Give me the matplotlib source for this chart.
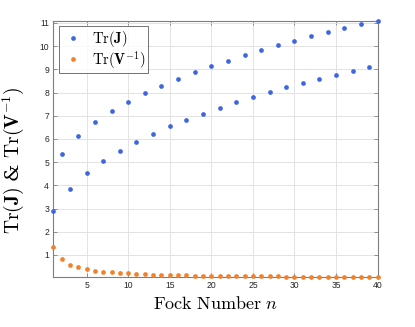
import numpy as np
import matplotlib.pyplot as plt

plt.rcParams['mathtext.fontset'] = 'cm'
plt.rcParams['font.family'] = 'Liberation Sans'

fock = list(range(1, 41))

# Tr(J) (odd n on the lower branch, even n on the upper)
traceJ = [2.91, 5.35, 3.86, 6.13, 4.53, 6.72, 5.05, 7.19, 5.50, 7.61,
          5.87, 7.97, 6.23, 8.30, 6.54, 8.60, 6.83, 8.87, 7.09, 9.13,
          7.34, 9.38, 7.58, 9.60, 7.81, 9.82, 8.02, 10.03, 8.22, 10.22,
          8.41, 10.42, 8.60, 10.60, 8.77, 10.77, 8.94, 10.94, 9.12, 11.10]

# Tr(V^-1)
traceVinv = [1.34, 0.83, 0.58, 0.47, 0.38, 0.32, 0.28, 0.25, 0.22, 0.20,
             0.18, 0.17, 0.155, 0.145, 0.135, 0.125, 0.118, 0.11, 0.105, 0.10,
             0.095, 0.091, 0.087, 0.083, 0.080, 0.077, 0.074, 0.071, 0.069, 0.067,
             0.064, 0.062, 0.060, 0.059, 0.057, 0.055, 0.054, 0.053, 0.051, 0.050]

blue = '#3f66e0'
orange = '#f5802a'
axisGray = '#262626'

fig = plt.figure(figsize=(4.15, 3.27), dpi=100)
ax = fig.add_axes([0.1284, 0.153, 0.7816, 0.784])

ax.plot(fock, traceJ, 'o', color=blue, markersize=3.4, markeredgewidth=0,
        clip_on=False, label=r'$\mathrm{Tr}(\mathbf{J})$', zorder=3)
ax.plot(fock, traceVinv, 'o', color=orange, markersize=3.4, markeredgewidth=0,
        clip_on=False, label=r'$\mathrm{Tr}(\mathbf{V}^{-1})$', zorder=3)

ax.set_xlim(1, 40)
ax.set_ylim(min(traceVinv), max(traceJ))
ax.set_xticks(range(5, 41, 5))
ax.set_yticks(range(1, 12))

ax.grid(True, color='#e3e3e3', linewidth=0.7)
ax.set_axisbelow(True)
for s in ax.spines.values():
    s.set_color('#7f7f7f')
    s.set_linewidth(0.8)
ax.tick_params(direction='in', top=True, right=True, length=3, width=0.6,
               color='#7f7f7f', labelsize=6.2, labelcolor=axisGray, pad=3)

ax.set_xlabel(r'$\mathrm{Fock\ Number}\ n$', fontsize=13, labelpad=4)
ax.set_ylabel(r'$\mathrm{Tr}(\mathbf{J})$ & $\mathrm{Tr}(\mathbf{V}^{-1})$',
              fontsize=14, family='DejaVu Serif')
ax.yaxis.set_label_coords(-0.085, 0.456)

leg = ax.legend(loc='upper left', fontsize=10.5, frameon=True, fancybox=False,
                edgecolor='#333333', handletextpad=0.5, borderpad=0.15,
                handlelength=1.6, labelspacing=0.0, borderaxespad=0,
                bbox_to_anchor=(0.018, 0.977))
leg.get_frame().set_linewidth(0.6)

fig.savefig('out.png', dpi=100)
